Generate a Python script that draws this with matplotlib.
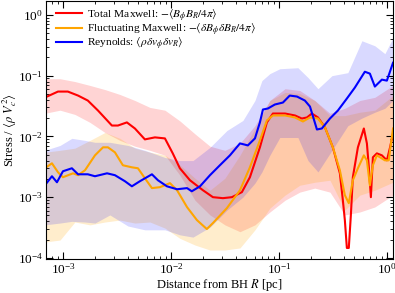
import matplotlib
matplotlib.use("Agg")
import matplotlib.pyplot as plt
import numpy as np

plt.rcParams["font.family"] = ["Liberation Serif", "DejaVu Serif"]
plt.rcParams["mathtext.fontset"] = "stix"

# total Maxwell stress (red)
r_tot = [6.8e-4, 9.0e-4, 1.11e-3, 1.38e-3, 1.70e-3, 2.11e-3, 2.84e-3, 3.23e-3, 3.91e-3, 4.64e-3,
         5.74e-3, 7.11e-3, 8.80e-3, 1.04e-2, 1.21e-2, 1.50e-2, 1.98e-2, 2.45e-2, 3.03e-2, 3.67e-2,
         4.54e-2, 5.39e-2, 6.67e-2, 7.74e-2, 8.80e-2, 0.114, 0.141, 0.163, 0.182, 0.202,
         0.230, 0.267, 0.316, 0.367, 0.391, 0.408, 0.426, 0.444, 0.464, 0.484,
         0.539, 0.612, 0.653, 0.681, 0.711, 0.742, 0.808, 0.899, 1.0, 1.07, 1.14]
s_tot = [4.36e-2, 5.47e-2, 5.47e-2, 4.70e-2, 3.89e-2, 2.67e-2, 1.51e-2, 1.51e-2, 1.70e-2, 1.35e-2,
         8.93e-3, 9.64e-3, 9.27e-3, 5.26e-3, 2.99e-3, 1.90e-3, 1.30e-3, 1.0e-3, 9.63e-4, 1.0e-3,
         1.21e-3, 2.13e-3, 6.61e-3, 1.70e-2, 2.38e-2, 2.38e-2, 2.21e-2, 1.97e-2, 2.05e-2, 2.38e-2,
         2.05e-2, 1.41e-2, 6.61e-3, 2.47e-3, 8.93e-4, 4.2e-4, 1.46e-4, 1.46e-4, 5.07e-4, 2.13e-3,
         6.61e-3, 1.35e-2, 7.67e-3, 3.10e-3, 1.0e-3, 4.53e-3, 5.26e-3, 4.88e-3, 4.04e-3, 6.61e-3, 1.12e-2]

# fluctuating Maxwell stress (orange)
r_fluc = [6.8e-4, 7.91e-4, 9.0e-4, 1.0e-3, 1.24e-3, 1.38e-3, 1.60e-3, 1.98e-3, 2.35e-3, 2.61e-3,
          3.03e-3, 3.59e-3, 4.35e-3, 4.95e-3, 5.74e-3, 6.67e-3, 7.91e-3, 9.8e-3, 1.14e-2, 1.41e-2,
          1.74e-2, 2.15e-2, 2.45e-2, 3.30e-2, 4.36e-2, 5.39e-2, 6.67e-2, 7.74e-2, 8.80e-2, 0.114,
          0.141, 0.167, 0.194, 0.230, 0.267, 0.316, 0.367, 0.408, 0.444, 0.484,
          0.539, 0.612, 0.653, 0.696, 0.742, 0.808, 0.958, 1.04, 1.14]
s_fluc = [2.99e-3, 3.61e-3, 2.57e-3, 2.13e-3, 2.47e-3, 2.30e-3, 2.77e-3, 4.88e-3, 6.61e-3, 6.61e-3,
          5.47e-3, 3.35e-3, 3.10e-3, 2.99e-3, 2.05e-3, 1.41e-3, 1.46e-3, 1.70e-3, 1.30e-3, 6.86e-4,
          4.20e-4, 2.99e-4, 3.75e-4, 6.61e-4, 1.30e-3, 3.10e-3, 8.6e-3, 1.83e-2, 2.21e-2, 2.21e-2,
          2.05e-2, 1.76e-2, 2.05e-2, 1.97e-2, 1.41e-2, 6.61e-3, 2.77e-3, 1.08e-3, 7.97e-4, 1.90e-3,
          2.99e-3, 4.88e-3, 4.04e-3, 1.57e-3, 3.35e-3, 4.88e-3, 4.04e-3, 4.04e-3, 1.35e-2]

# Reynolds stress (blue)
r_rey = [6.8e-4, 7.91e-4, 8.8e-4, 1.0e-3, 1.21e-3, 1.38e-3, 1.70e-3, 1.98e-3, 2.56e-3, 3.03e-3,
         3.75e-3, 4.35e-3, 5.16e-3, 6.67e-3, 7.58e-3, 9.18e-3, 1.14e-2, 1.41e-2, 1.56e-2, 1.86e-2,
         2.30e-2, 2.84e-2, 3.52e-2, 4.36e-2, 5.16e-2, 6.0e-2, 6.67e-2, 7.11e-2, 7.91e-2, 9.18e-2,
         0.109, 0.126, 0.147, 0.174, 0.194, 0.225, 0.250, 0.297, 0.352, 0.426,
         0.505, 0.625, 0.696, 0.774, 0.899, 1.0, 1.14]
s_rey = [1.57e-3, 2.21e-3, 1.76e-3, 2.67e-3, 2.99e-3, 2.38e-3, 2.38e-3, 2.21e-3, 2.47e-3, 2.30e-3,
         1.83e-3, 1.51e-3, 1.83e-3, 2.38e-3, 1.90e-3, 1.51e-3, 1.35e-3, 1.41e-3, 1.25e-3, 1.51e-3,
         2.30e-3, 3.35e-3, 4.88e-3, 7.67e-3, 7.11e-3, 9.27e-3, 1.70e-2, 2.77e-2, 2.88e-2, 3.35e-2,
         3.61e-2, 4.70e-2, 4.53e-2, 3.89e-2, 3.10e-2, 1.30e-2, 1.35e-2, 1.97e-2, 2.67e-2, 4.20e-2,
         6.36e-2, 0.116, 0.108, 6.61e-2, 8.6e-2, 8.28e-2, 0.163]

# shaded spreads for the two Maxwell terms
r_band = [6.8e-4, 9.4e-4, 1.29e-3, 1.78e-3, 2.45e-3, 3.37e-3, 4.64e-3, 6.39e-3, 8.80e-3, 1.21e-2,
          1.67e-2, 2.30e-2, 3.16e-2, 4.36e-2, 6.0e-2, 8.25e-2, 0.114, 0.156, 0.215, 0.297,
          0.408, 0.562, 0.774, 1.14]
tot_hi = [8.9e-2, 8.9e-2, 8.0e-2, 6.9e-2, 5.9e-2, 4.9e-2, 3.9e-2, 3.0e-2, 2.7e-2, 1.8e-2,
          1.1e-2, 6.9e-3, 5.9e-3, 7.7e-3, 1.5e-2, 3.9e-2, 6.1e-2, 5.7e-2, 3.9e-2, 2.4e-2,
          2.9e-2, 3.9e-2, 4.4e-2, 6.9e-2]
tot_lo = [2.4e-2, 2.7e-2, 2.3e-2, 1.7e-2, 1.16e-2, 8.6e-3, 6.9e-3, 5.9e-3, 4.9e-3, 2.3e-3,
          8.9e-4, 5.1e-4, 3.5e-4, 2.7e-4, 3.5e-4, 5.7e-4, 8.9e-4, 1.21e-3, 1.41e-3, 1.21e-3,
          5.1e-4, 5.7e-4, 6.9e-4, 1.08e-3]
fluc_hi = [5.5e-3, 5.9e-3, 6.4e-3, 8.6e-3, 1.16e-2, 9.3e-3, 6.4e-3, 5.5e-3, 4.9e-3, 3.4e-3,
           2.05e-3, 1.3e-3, 2.05e-3, 4.9e-3, 1.35e-2, 3.9e-2, 5.3e-2, 5.1e-2, 3.9e-2, 2.2e-2,
           2.2e-2, 2.5e-2, 2.7e-2, 4.7e-2]
fluc_lo = [1.83e-4, 1.97e-4, 3.9e-4, 3.5e-4, 3.9e-4, 4.2e-4, 3.75e-4, 3.9e-4, 3.1e-4, 2.1e-4,
           1.63e-4, 1.35e-4, 1.35e-4, 1.46e-4, 2.9e-4, 6.6e-4, 1.08e-3, 1.57e-3, 1.76e-3, 1.9e-3,
           6.1e-4, 1.08e-3, 1.3e-3, 1.76e-3]

# shaded spread for Reynolds
r_rband = [6.8e-4, 9.4e-4, 1.21e-3, 1.60e-3, 1.98e-3, 2.72e-3, 4.0e-3, 5.74e-3, 8.8e-3, 1.21e-2,
           1.60e-2, 2.30e-2, 3.30e-2, 4.64e-2, 6.0e-2, 6.96e-2, 8.25e-2, 0.102, 0.150, 0.186,
           0.230, 0.310, 0.435, 0.587, 0.774, 0.958, 1.14]
rey_hi = [5.9e-3, 7.1e-3, 9.3e-3, 8.6e-3, 8.0e-3, 8.0e-3, 7.1e-3, 5.9e-3, 4.5e-3, 4.0e-3,
          4.0e-3, 6.6e-3, 1.25e-2, 1.83e-2, 3.9e-2, 8.3e-2, 0.108, 0.130, 0.135, 9.3e-2,
          6.1e-2, 0.1, 0.112, 0.375, 0.31, 0.23, 0.42]
rey_lo = [3.5e-4, 3.75e-4, 4.0e-4, 3.9e-4, 3.75e-4, 5.1e-4, 3.35e-4, 2.9e-4, 2.9e-4, 2.4e-4,
          2.2e-4, 3.2e-4, 6.1e-4, 1.0e-3, 1.7e-3, 2.6e-3, 4.9e-3, 9.6e-3, 9.6e-3, 4.0e-3,
          2.6e-3, 5.9e-3, 1.5e-2, 2.0e-2, 2.5e-2, 2.9e-2, 3.9e-2]

fig = plt.figure(figsize=(3.95, 2.93), dpi=100)
ax = fig.add_axes([0.117, 0.116, 0.878, 0.881])

ax.fill_between(r_band, tot_lo, tot_hi, color="red", alpha=0.17, lw=0)
ax.fill_between(r_band, fluc_lo, fluc_hi, color="orange", alpha=0.2, lw=0)
ax.fill_between(r_rband, rey_lo, rey_hi, color="blue", alpha=0.15, lw=0)

ax.plot(r_tot, s_tot, color="red", lw=1.5,
        label=r"Total Maxwell: $-\langle B_\phi B_R/4\pi\rangle$")
ax.plot(r_fluc, s_fluc, color="orange", lw=1.5,
        label=r"Fluctuating Maxwell: $-\langle \delta B_\phi \delta B_R/4\pi\rangle$")
ax.plot(r_rey, s_rey, color="blue", lw=1.5,
        label=r"Reynolds: $\langle \rho \delta v_\phi \delta v_R\rangle$")

ax.set_xscale("log")
ax.set_yscale("log")
ax.set_xlim(7.0e-4, 1.14)
ax.set_ylim(9.6e-5, 1.7)
ax.set_xlabel(r"Distance from BH $R$ [pc]", fontsize=9, labelpad=0)
ax.set_ylabel(r"Stress / $\langle \rho\ V_c^2\rangle$", fontsize=9, labelpad=0)
ax.yaxis.set_label_coords(-0.078, 0.5)
ax.tick_params(which="both", direction="in", top=True, right=True, labelsize=9.5)
ax.tick_params(which="major", length=5, width=0.8, pad=2.5)
ax.tick_params(which="minor", length=2.5, width=0.6)

ax.legend(loc="upper left", frameon=False, fontsize=8.2, handlelength=2.3,
          borderaxespad=0.0, labelspacing=-0.15, handletextpad=0.4,
          bbox_to_anchor=(0.015, 0.995))

fig.savefig("out.png", dpi=100)
